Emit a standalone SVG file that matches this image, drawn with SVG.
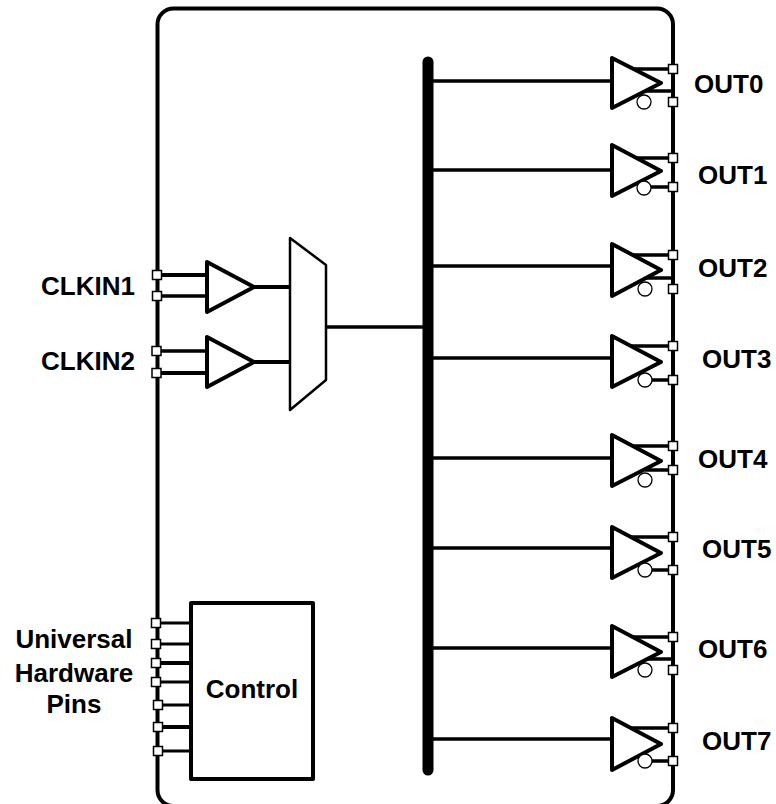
<svg xmlns="http://www.w3.org/2000/svg" width="776" height="804" viewBox="0 0 776 804">
<style>
text{font-family:"Liberation Sans",Arial,sans-serif;font-weight:bold;font-size:26px;fill:#000}
.m{text-anchor:middle}
.w{stroke:#000;fill:none;stroke-linecap:butt}
.t{stroke:#000;stroke-width:4;fill:#fff;stroke-linejoin:round}
.p{stroke:#000;stroke-width:1.5;fill:#fff}
.c{stroke:#000;stroke-width:1.3;fill:#fff}
</style>
<defs>
<rect id="pin" class="p" x="-4.5" y="-4.5" width="9" height="9"/>
</defs>
<rect width="776" height="804" fill="#fff"/>
<g id="chip"><rect class="w" stroke-width="4" x="157.5" y="8.5" width="515.5" height="797.5" rx="16" ry="16"/></g>
<g id="connectors" class="w">
<path stroke-width="4" d="M157 275H206M157 373H206"/>
<path stroke-width="3.5" d="M157 296H206M157 351H206"/>
<path stroke-width="4" d="M254 287H290M254 362H290"/>
<path stroke-width="3.5" d="M326 327H428"/>
<path stroke-width="11" stroke-linecap="round" d="M428 62V770"/>
<path stroke-width="3.5" d="M428 81H611M428 170H611M428 266H611M428 358H611M428 458H611M428 548H611M428 648H611M428 739H611"/>
<path stroke-width="3.5" d="M630 69H673M635 158H673M630 255H673M630 346H673M630 446H673M630 537H673M630 637H673M630 728H673"/>
<path stroke-width="3.5" d="M645 91H673M645 187H673M645 278H673M645 380H673M645 470H673M645 570H673M645 659H673M645 761H673"/>
<path stroke-width="3" d="M156 623H191M156 644H191M157 682H191M158 705H191M158 751H191"/>
<path stroke-width="4" d="M156 663H191M158 727H191"/>
</g>
<g id="clkin1"><polygon class="t" points="207,262 207,312 254,287"/><use href="#pin" x="157" y="275"/><use href="#pin" x="157" y="296"/><text class="m" x="88" y="295">CLKIN1</text></g>
<g id="clkin2"><polygon class="t" points="207,337 207,387 254,362"/><use href="#pin" x="156.5" y="351"/><use href="#pin" x="156.5" y="373"/><text class="m" x="88" y="370">CLKIN2</text></g>
<g id="mux"><polygon class="t" style="stroke-width:2.5" points="290,238 326,265 326,380 290,410"/></g>
<g id="control"><rect class="t" x="191" y="603" width="122" height="176"/><text class="m" x="252" y="698">Control</text></g>
<g id="hw-pins"><use href="#pin" x="156" y="623"/><use href="#pin" x="156" y="644"/><use href="#pin" x="156" y="663"/><use href="#pin" x="156" y="682"/><use href="#pin" x="158" y="705"/><use href="#pin" x="158" y="727"/><use href="#pin" x="158" y="751"/>
<text class="m" x="74" y="648">Universal</text><text class="m" x="74" y="682">Hardware</text><text class="m" x="74" y="713">Pins</text></g>
<g id="out0"><polygon class="t" points="612,58 612,108 661,83"/><circle class="c" cx="644" cy="102" r="7"/><use href="#pin" x="673" y="69"/><use href="#pin" x="673" y="102"/><text x="694" y="93">OUT0</text></g>
<g id="out1"><polygon class="t" points="612,145 612,196 661,171"/><circle class="c" cx="644" cy="188" r="7"/><use href="#pin" x="673" y="158"/><use href="#pin" x="673" y="187"/><text x="698" y="184">OUT1</text></g>
<g id="out2"><polygon class="t" points="612,244 612,296 661,270"/><circle class="c" cx="645" cy="289" r="7"/><use href="#pin" x="673" y="255"/><use href="#pin" x="673" y="289"/><text x="698" y="277">OUT2</text></g>
<g id="out3"><polygon class="t" points="612,336 612,387 661,362"/><circle class="c" cx="645" cy="380" r="7"/><use href="#pin" x="673" y="346"/><use href="#pin" x="673" y="380"/><text x="702" y="368">OUT3</text></g>
<g id="out4"><polygon class="t" points="612,435 612,486 661,461"/><circle class="c" cx="645" cy="480" r="7"/><use href="#pin" x="673" y="446"/><use href="#pin" x="673" y="470"/><text x="698" y="468">OUT4</text></g>
<g id="out5"><polygon class="t" points="612,527 612,578 661,553"/><circle class="c" cx="645" cy="570" r="7"/><use href="#pin" x="673" y="537"/><use href="#pin" x="673" y="570"/><text x="702" y="558">OUT5</text></g>
<g id="out6"><polygon class="t" points="612,626 612,677 661,652"/><circle class="c" cx="645" cy="670" r="7"/><use href="#pin" x="673" y="637"/><use href="#pin" x="673" y="670"/><text x="698" y="658">OUT6</text></g>
<g id="out7"><polygon class="t" points="612,718 612,770 661,744"/><circle class="c" cx="645" cy="761" r="7"/><use href="#pin" x="673" y="728"/><use href="#pin" x="673" y="761"/><text x="702" y="750">OUT7</text></g>
</svg>
